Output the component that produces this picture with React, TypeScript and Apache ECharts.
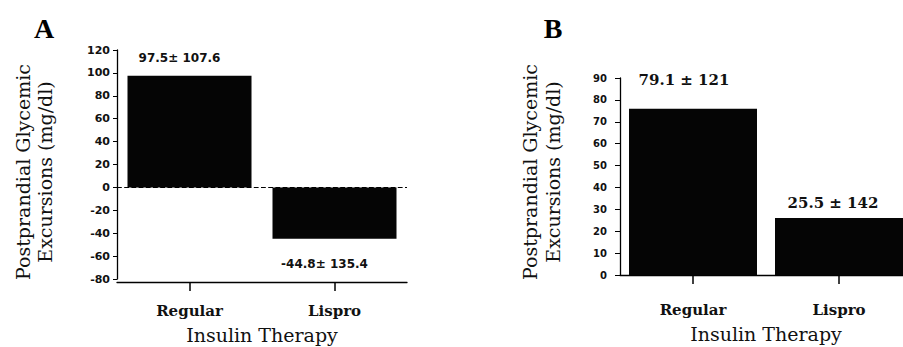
import React, { useEffect, useRef } from "react";
import * as echarts from "echarts";

const categories = ["Regular", "Lispro"];
const meansA = [97.5, -44.8];
const labelsA = ["97.5± 107.6", "-44.8± 135.4"];
const meansB = [76, 26];
const labelsB = ["79.1 ± 121", "25.5 ± 142"];
const panelLetters = ["A", "B"];
const yTitle = "Postprandial Glycemic\nExcursions (mg/dl)";
const xTitle = "Insulin Therapy";

const SERIF = '"DejaVu Serif", serif';
const SANS = '"DejaVu Sans", sans-serif';
const INK = "#000";

export default function App() {
  const ref = useRef<HTMLDivElement>(null);

  useEffect(() => {
    document.body.style.margin = "0";
    if (!ref.current) return;
    const chart = echarts.init(ref.current, null, { renderer: "svg" });

    const axisLineStyle = { color: INK, width: 1.3 };
    const catAxis = (gridIndex: number, offset: number, margin: number, nameGap: number) => ({
      type: "category",
      gridIndex,
      offset,
      data: categories,
      axisLine: { show: true, onZero: false, lineStyle: axisLineStyle },
      axisTick: { show: true, alignWithLabel: true, length: 9, lineStyle: { color: INK, width: 1.5 } },
      axisLabel: { margin, fontFamily: SERIF, fontWeight: "bold", fontSize: 15, color: "#111" },
      name: xTitle,
      nameLocation: "middle",
      nameGap,
      nameTextStyle: { fontFamily: SERIF, fontSize: 19, color: "#111" },
      splitLine: { show: false },
    });

    const labelStyleA = {
      fontFamily: SANS,
      fontWeight: "bold",
      fontSize: 12,
      color: "#111",
    };
    const labelStyleB = {
      fontFamily: SERIF,
      fontWeight: "bold",
      fontSize: 15,
      color: "#111",
    };

    const option = {
      animation: false,
      backgroundColor: "#fff",
      grid: [
        { left: 117, top: 50, width: 290, height: 229, containLabel: false, outerBoundsMode: "none" },
        { left: 620, top: 78, width: 292, height: 197, containLabel: false, outerBoundsMode: "none" },
      ],
      xAxis: [catAxis(0, 3, 21, 43), catAxis(1, 0, 27, 49)],
      yAxis: [
        {
          type: "value",
          gridIndex: 0,
          min: -80,
          max: 120,
          interval: 20,
          axisLine: { show: true, lineStyle: axisLineStyle },
          axisTick: { show: true, length: 4, lineStyle: { color: INK } },
          axisLabel: { margin: 7, fontFamily: SANS, fontWeight: "bold", fontSize: 11, color: "#111" },
          splitLine: { show: false },
        },
        {
          type: "value",
          gridIndex: 1,
          min: 0,
          max: 90,
          interval: 10,
          axisLine: { show: true, lineStyle: axisLineStyle },
          axisTick: { show: true, length: 5, lineStyle: { color: INK } },
          axisLabel: { margin: 13, fontFamily: SANS, fontWeight: "bold", fontSize: 10, color: "#111" },
          splitLine: { show: false },
        },
      ],
      series: [
        {
          type: "bar",
          xAxisIndex: 0,
          yAxisIndex: 0,
          barWidth: 124,
          itemStyle: { color: "#050505" },
          data: meansA.map((v, i) => ({
            value: v,
            label: {
              show: true,
              position: v >= 0 ? "top" : "bottom",
              distance: v >= 0 ? 12 : 19,
              offset: [-10, 0],
              formatter: labelsA[i],
              ...labelStyleA,
            },
          })),
          markLine: {
            silent: true,
            symbol: ["none", "none"],
            label: { show: false },
            lineStyle: { type: "dashed", color: INK, width: 1.2 },
            data: [{ yAxis: 0 }],
          },
        },
        {
          type: "bar",
          xAxisIndex: 1,
          yAxisIndex: 1,
          barWidth: 128,
          itemStyle: { color: "#050505" },
          data: meansB.map((v, i) => ({
            value: v,
            label: {
              show: true,
              position: "top",
              distance: i === 0 ? 21 : 8,
              offset: [i === 0 ? -9 : -6, 0],
              formatter: labelsB[i],
              ...labelStyleB,
            },
          })),
        },
      ],
      graphic: [
        {
          type: "text",
          x: 44,
          y: 28,
          style: {
            text: panelLetters[0],
            font: 'bold 28px "Liberation Serif", serif',
            fill: INK,
            align: "center",
            verticalAlign: "middle",
          },
        },
        {
          type: "text",
          x: 553,
          y: 28,
          style: {
            text: panelLetters[1],
            font: 'bold 28px "Liberation Serif", serif',
            fill: INK,
            align: "center",
            verticalAlign: "middle",
          },
        },
        {
          type: "text",
          x: 34,
          y: 172,
          rotation: Math.PI / 2,
          style: {
            text: yTitle,
            font: '19px "DejaVu Serif", serif',
            lineHeight: 22,
            fill: "#111",
            align: "center",
            verticalAlign: "middle",
          },
        },
        {
          type: "text",
          x: 541,
          y: 172,
          rotation: Math.PI / 2,
          style: {
            text: yTitle,
            font: '19px "DejaVu Serif", serif',
            lineHeight: 23,
            fill: "#111",
            align: "center",
            verticalAlign: "middle",
          },
        },
      ],
    };

    chart.setOption(option as any);
    return () => chart.dispose();
  }, []);

  return <div ref={ref} style={{ width: 903, height: 347 }} />;
}
